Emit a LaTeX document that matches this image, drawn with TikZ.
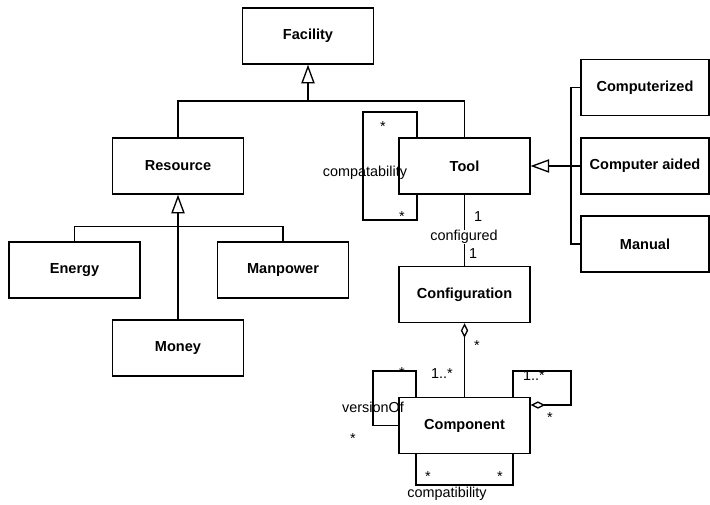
\documentclass[tikz,border=0pt]{standalone}
\usepackage{fontspec}
\setmainfont{Liberation Sans}
\usetikzlibrary{arrows.meta}
\begin{document}
\begin{tikzpicture}[x=0.75pt,y=-0.75pt,line width=1pt,
    cls/.style={draw,line width=1.1pt,minimum width=98pt,minimum height=42pt,inner sep=0pt,
      font=\fontsize{10.9}{13}\selectfont\bfseries},
    sub/.style={cls,minimum width=96pt},
    lbl/.style={inner sep=0.5pt,font=\fontsize{10.8}{13}\selectfont},
    gen/.style={-{Triangle[open,length=14pt,width=10pt]}},
    agg/.style={-{Diamond[open,length=11pt,width=5.5pt]}}]
      \useasboundingbox (0,0) rectangle (710,504);

      \node[cls] (facility)      at (308,36)    {Facility};
      \node[cls] (resource)      at (178,166)   {Resource};
      \node[cls] (tool)          at (464.5,166) {Tool};
      \node[cls] (energy)        at (74.5,270)  {Energy};
      \node[cls] (manpower)      at (283,270)   {Manpower};
      \node[cls] (money)         at (178,348)   {Money};
      \node[sub] (computerized)  at (645,87.5)  {Computerized};
      \node[sub] (computeraided) at (645,166)   {Computer aided};
      \node[sub] (manual)        at (645,244)   {Manual};
      \node[cls] (configuration) at (464.5,294.5) {Configuration};
      \node[cls] (component)     at (464.5,425.5) {Component};

      \coordinate (facj)  at (308,101);
      \coordinate (resj)  at (178,226.5);
      \coordinate (toolj) at (571,166);
      \draw (resource.north) |- (facj) -| (tool.north);
      \draw[gen] (facj) -- (facility.south);
      \draw (energy.north) |- (resj) -| (manpower.north);
      \draw[gen] (money.north) -- (resource.south);
      \draw (computerized.west) -| (toolj) |- (manual.west);
      \draw[gen] (computeraided.west) -- (tool.east);

      \coordinate (ctA) at (363,112);
      \coordinate (ctB) at (417,220);
      \draw (tool.north -| ctB) |- (ctA) |- (ctB) -- (tool.south -| ctB);
      \node[lbl] (ctS1) at (383,127) {*};
      \node[lbl] (ctS2) at (402,217) {*};
      \node[lbl] (ctL)  at (365,173) {compatability};

      \draw (tool.south) -- (configuration.north);
      \node[lbl] (cfN1) at (478,217) {1};
      \node[lbl,fill=white] (cfL) at (464,237) {configured};
      \node[lbl] (cfN2) at (473,254) {1};

      \draw[agg] (component.north) -- (configuration.south);
      \node[lbl] (agS)  at (477,346) {*};
      \node[lbl] (agN)  at (442,374) {1..*};

      \coordinate (vA) at (373,371);
      \coordinate (vB) at (416,398);
      \draw (component.north -| vB) |- (vA) |- (component.west);
      \node[lbl] (vS1) at (402,373) {*};
      \node[lbl] (vL)  at (373,407) {versionOf};
      \node[lbl] (vS2) at (353,439) {*};

      \coordinate (rA) at (571,371);
      \coordinate (rB) at (513,405);
      \draw[agg] (component.north -| rB) |- (rA) |- (component.east |- rB);
      \node[lbl] (rN) at (534,376) {1..*};
      \node[lbl] (rS) at (550,418) {*};

      \coordinate (cbA) at (416,485);
      \coordinate (cbB) at (513,485);
      \draw (component.south -| cbA) -- (cbA) -- (cbB) -- (component.south -| cbB);
      \node[lbl] (cbS1) at (428,477) {*};
      \node[lbl] (cbS2) at (500,477) {*};
      \node[lbl] (cbL)  at (447,494) {compatibility};
\end{tikzpicture}
\end{document}
